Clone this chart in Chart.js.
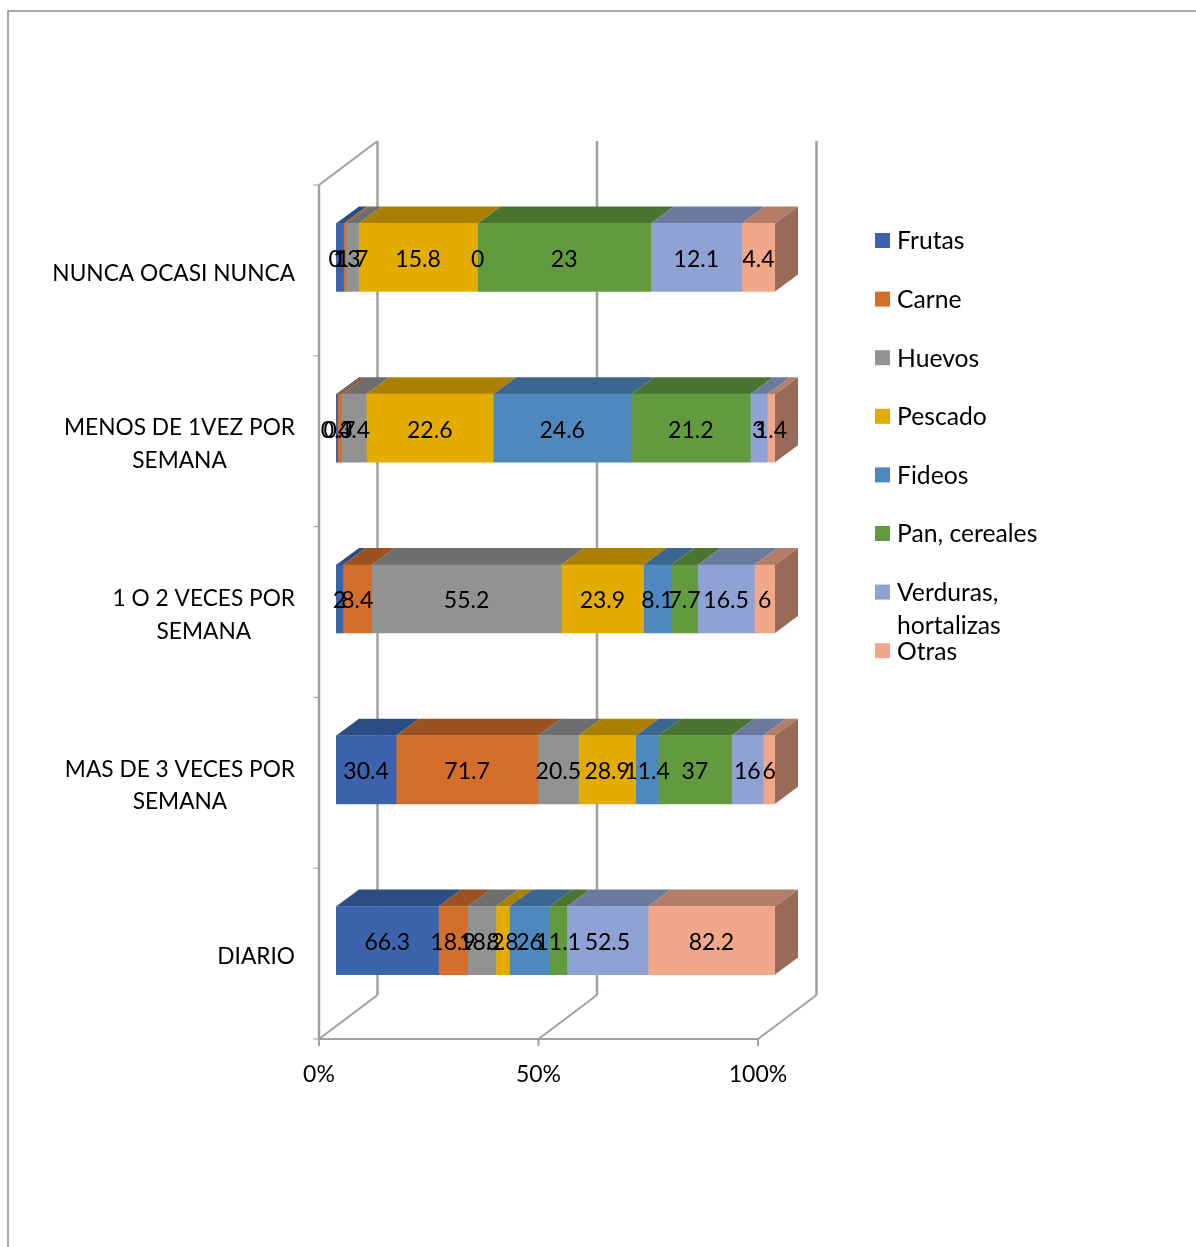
<!DOCTYPE html>
<html>
<head>
<meta charset="utf-8">
<title>Consumo de alimentos</title>
<script src="https://cdn.jsdelivr.net/npm/chart.js@4"></script>
<style>
    html, body { margin: 0; padding: 0; background: #fff; }
    canvas { display: block; }
</style>
</head>
<body>
<canvas id="chart1" width="1196" height="1247"></canvas>
<script>
var categories = ['NUNCA OCASI NUNCA', 'MENOS DE 1VEZ POR SEMANA', '1 O 2 VECES POR SEMANA', 'MAS DE 3 VECES POR SEMANA', 'DIARIO'];
var categoryLines = [['NUNCA OCASI NUNCA'], ['MENOS DE 1VEZ POR', 'SEMANA'], ['1 O 2 VECES POR', 'SEMANA'], ['MAS DE 3 VECES POR', 'SEMANA'], ['DIARIO']];

var frutas = [1, 0.3, 2, 30.4, 66.3];
var carne = [0.3, 0.7, 8.4, 71.7, 18.9];
var huevos = [1.7, 4.4, 55.2, 20.5, 18.2];
var pescado = [15.8, 22.6, 23.9, 28.9, 8.8];
var fideos = [0, 24.6, 8.1, 11.4, 26];
var pan = [23, 21.2, 7.7, 37, 11.1];
var verduras = [12.1, 3, 16.5, 16, 52.5];
var otras = [4.4, 1.4, 6, 6, 82.2];

var seriesNames = ['Frutas', 'Carne', 'Huevos', 'Pescado', 'Fideos', 'Pan, cereales', 'Verduras, hortalizas', 'Otras'];
var seriesValues = [frutas, carne, huevos, pescado, fideos, pan, verduras, otras];
var frontColors = ['#3b64ad', '#d36f2b', '#929292', '#e5ac00', '#4e88bf', '#629b3f', '#8fa2d4', '#f1a78a'];
var topColors = ['#2c4d84', '#9c5220', '#6e6e6e', '#ab8000', '#3b668f', '#4a742f', '#6b7a9f', '#b47d67'];
var sideColor = '#9a6a58';
var lineColor = '#a0a0a0';
var fontName = 'Lato, sans-serif';

// the chart is 100% stacked, the labels keep the real values
var totals = categories.map(function (c, j) {
    return seriesValues.reduce(function (sum, s) { return sum + s[j]; }, 0);
});

var datasets = seriesNames.map(function (name, i) {
    return {
        label: name,
        data: seriesValues[i].map(function (v, j) { return v / totals[j] * 100; }),
        backgroundColor: frontColors[i],
        barThickness: 68
    };
});

function line(ctx, x1, y1, x2, y2) {
    ctx.beginPath();
    ctx.moveTo(x1, y1);
    ctx.lineTo(x2, y2);
    ctx.stroke();
}

var frame3d = {
    id: 'frame3d',
    beforeDatasetsDraw: function (chart) {
        var ctx = chart.ctx, xs = chart.scales.x, ys = chart.scales.y;
        var top = ys.top + 13, bottom = ys.bottom + 13;
        var backDx = 58.5, backDy = -44;

        ctx.save();
        // outer frame of the picture
        ctx.strokeStyle = '#8c8c8c';
        ctx.lineWidth = 1.5;
        ctx.beginPath();
        ctx.moveTo(1196, 11);
        ctx.lineTo(8, 11);
        ctx.lineTo(8, 1247);
        ctx.stroke();

        ctx.strokeStyle = lineColor;
        ctx.lineWidth = 2.5;
        [0, 50, 100].forEach(function (v) {
            var x = xs.getPixelForValue(v) - 17;
            line(ctx, x + backDx, top + backDy, x + backDx, bottom + backDy);
        });
        line(ctx, xs.left - 17, top, xs.left - 17, bottom);
        ctx.lineWidth = 2;
        line(ctx, xs.left - 17, top, xs.left - 17 + backDx, top + backDy);
        line(ctx, xs.left - 17, bottom, xs.right - 17, bottom);
        [0, 50, 100].forEach(function (v) {
            var x = xs.getPixelForValue(v) - 17;
            line(ctx, x, bottom, x + backDx, bottom + backDy);
            line(ctx, x, bottom, x, bottom + 7);
        });
        // category ticks on the left wall
        ctx.lineWidth = 1;
        for (var k = 0; k <= categories.length; k++) {
            var y = top + (bottom - top) * k / categories.length;
            line(ctx, xs.left - 23, y, xs.left - 17, y);
        }

        // top faces and end cap of the bars
        var dx = 23, dy = -17;
        chart.data.datasets.forEach(function (ds, i) {
            chart.getDatasetMeta(i).data.forEach(function (bar) {
                var p = bar.getProps(['x', 'y', 'base', 'height']);
                var yTop = p.y - p.height / 2;
                ctx.fillStyle = topColors[i];
                ctx.beginPath();
                ctx.moveTo(p.base, yTop);
                ctx.lineTo(p.base + dx, yTop + dy);
                ctx.lineTo(p.x + dx, yTop + dy);
                ctx.lineTo(p.x, yTop);
                ctx.closePath();
                ctx.fill();
                if (i === chart.data.datasets.length - 1) {
                    ctx.fillStyle = sideColor;
                    ctx.beginPath();
                    ctx.moveTo(p.x, yTop);
                    ctx.lineTo(p.x + dx, yTop + dy);
                    ctx.lineTo(p.x + dx, yTop + dy + p.height);
                    ctx.lineTo(p.x, yTop + p.height);
                    ctx.closePath();
                    ctx.fill();
                }
            });
        });
        ctx.restore();
    }
};

var textLayer = {
    id: 'textLayer',
    afterDatasetsDraw: function (chart) {
        var ctx = chart.ctx, ys = chart.scales.y;
        ctx.save();
        ctx.fillStyle = '#000';
        ctx.font = '23px ' + fontName;
        ctx.textBaseline = 'middle';
        ctx.textAlign = 'center';

        // value labels
        chart.data.datasets.forEach(function (ds, i) {
            chart.getDatasetMeta(i).data.forEach(function (bar, j) {
                var p = bar.getProps(['x', 'y', 'base']);
                ctx.fillText(String(seriesValues[i][j]), (p.x + p.base) / 2, p.y + 2);
            });
        });

        // category labels, centred inside their own block, block ends at x=295
        ctx.font = '22.7px ' + fontName;
        categoryLines.forEach(function (lines, j) {
            var widest = 0;
            lines.forEach(function (t) { widest = Math.max(widest, ctx.measureText(t).width); });
            var cx = 295 - widest / 2;
            var cy = ys.getPixelForValue(j) + 16;
            lines.forEach(function (t, n) {
                ctx.fillText(t, cx, cy + (n - (lines.length - 1) / 2) * 32.5);
            });
        });

        // legend on the right
        ctx.font = '24.7px ' + fontName;
        ctx.textAlign = 'left';
        var rowY = 240.5;
        chart.data.datasets.forEach(function (ds, i) {
            ctx.fillStyle = frontColors[i];
            ctx.fillRect(875, rowY - 7.5, 15, 15);
            ctx.fillStyle = '#000';
            if (ds.label === 'Verduras, hortalizas') {
                ctx.fillText('Verduras,', 897, rowY + 1);
                ctx.fillText('hortalizas', 897, rowY + 33.5);
            } else {
                ctx.fillText(ds.label, 897, rowY + 1);
            }
            rowY += 58.6;
        });
        ctx.restore();
    }
};

var ctx1 = document.getElementById('chart1').getContext('2d');
var chart1 = new Chart(ctx1, {
    type: 'bar',
    data: {
        labels: categories,
        datasets: datasets
    },
    plugins: [frame3d, textLayer],
    options: {
        indexAxis: 'y',
        responsive: false,
        animation: false,
        layout: {
            padding: { left: 336, right: 421, top: 172, bottom: 160 }
        },
        plugins: {
            legend: { display: false },
            tooltip: { enabled: false }
        },
        scales: {
            x: {
                stacked: true,
                min: 0,
                max: 100,
                afterFit: function (scale) { scale.height = 61; },
                grid: { display: false },
                border: { display: false },
                ticks: {
                    stepSize: 50,
                    maxRotation: 0,
                    labelOffset: -17,
                    padding: 27,
                    color: '#000',
                    font: { family: fontName, size: 23 },
                    callback: function (v) { return v + '%'; }
                }
            },
            y: {
                stacked: true,
                afterFit: function (scale) { scale.width = 0; },
                grid: { display: false },
                border: { display: false },
                ticks: { display: false }
            }
        }
    }
});
</script>
</body>
</html>
